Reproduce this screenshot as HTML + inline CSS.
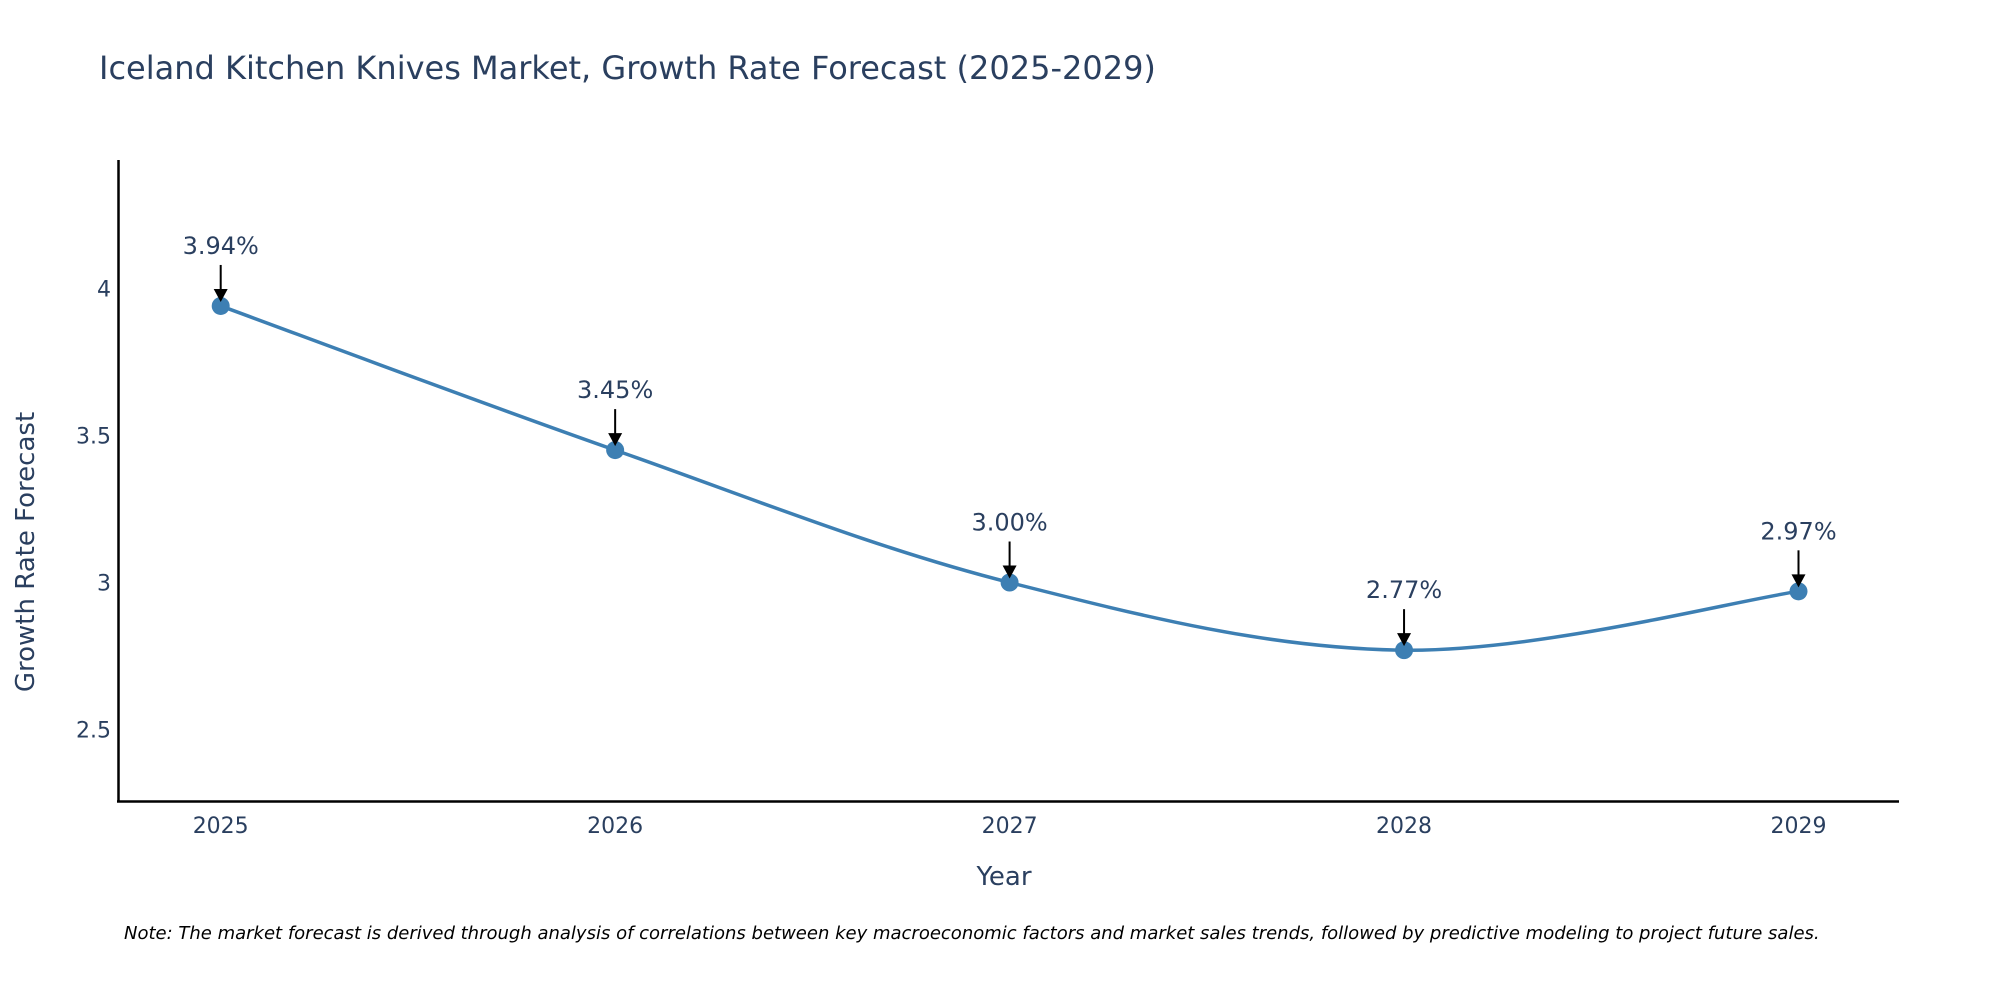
<!DOCTYPE html>
<html><head><meta charset="utf-8"><style>
body{margin:0;background:#fff;}
svg{display:block;font-family:"DejaVu Sans","Liberation Sans",sans-serif;}
</style></head><body>
<svg id="chart" width="2000" height="1000" viewBox="0 0 2000 1000">
<text x="99" y="79" font-size="32" fill="#2a3f5f">Iceland Kitchen Knives Market, Growth Rate Forecast (2025-2029)</text>
<g id="yticks"></g>
<g id="xticks"></g>
<line x1="118.5" y1="160" x2="118.5" y2="802" stroke="#000" stroke-width="2.5"/>
<line x1="117" y1="801.5" x2="1899" y2="801.5" stroke="#000" stroke-width="2.5"/>
<path id="line" fill="none" stroke="#3d7fb3" stroke-width="3.5"/>
<g id="points"></g>
<g id="annos"></g>
<text x="1004" y="885" font-size="26" fill="#2a3f5f" text-anchor="middle">Year</text>
<text transform="translate(34,552) rotate(-90)" font-size="26" fill="#2a3f5f" text-anchor="middle">Growth Rate Forecast</text>
<text x="124" y="939" font-size="18" font-style="italic" fill="#000">Note: The market forecast is derived through analysis of correlations between key macroeconomic factors and market sales trends, followed by predictive modeling to project future sales.</text>
</svg>
<script>
const years=[2025,2026,2027,2028,2029];
const values=[3.94,3.45,3.00,2.77,2.97];
const yTicks=[2.5,3,3.5,4];
const NS="http://www.w3.org/2000/svg";
function xs(yr){return 220.7+(yr-2025)*394.45;}
function ys(v){return 288.3-(v-4)*294.2;}
function mk(tag,attrs,parent){const e=document.createElementNS(NS,tag);for(const k in attrs)e.setAttribute(k,attrs[k]);parent.appendChild(e);return e;}
const yt=document.getElementById('yticks');
yTicks.forEach(t=>{const e=mk('text',{x:111,y:ys(t)+8,'font-size':22,fill:'#2a3f5f','text-anchor':'end'},yt);


e.textContent=String(t);});
const xt=document.getElementById('xticks');
years.forEach(y=>{const e=mk('text',{x:xs(y),y:833,'font-size':22,fill:'#2a3f5f','text-anchor':'middle'},xt);


e.textContent=String(y);});
const P=years.map((y,i)=>[xs(y),ys(values[i])]);
let d='M'+P[0][0]+','+P[0][1];
const s=0.17;
for(let i=0;i<P.length-1;i++){const p0=P[Math.max(0,i-1)],p1=P[i],p2=P[i+1],p3=P[Math.min(P.length-1,i+2)];
const c1=[p1[0]+(p2[0]-p0[0])*s,p1[1]+(p2[1]-p0[1])*s],c2=[p2[0]-(p3[0]-p1[0])*s,p2[1]-(p3[1]-p1[1])*s];
d+=' C'+c1[0]+','+c1[1]+' '+c2[0]+','+c2[1]+' '+p2[0]+','+p2[1];}
document.getElementById('line').setAttribute('d',d);
const pts=document.getElementById('points'),an=document.getElementById('annos');
P.forEach((p,i)=>{const c=mk('circle',{cx:p[0],cy:p[1],r:9,fill:'#3d7fb3'},pts);


const l=mk('line',{x1:p[0],y1:p[1]-41,x2:p[0],y2:p[1]-14,stroke:'#000','stroke-width':2},an);


const h=mk('polygon',{points:`${p[0]-7},${p[1]-17} ${p[0]+7},${p[1]-17} ${p[0]},${p[1]-4}`,fill:'#000'},an);


const t=mk('text',{x:p[0],y:p[1]-52,'font-size':24,fill:'#2a3f5f','text-anchor':'middle'},an);


t.textContent=values[i].toFixed(2)+'%';});
</script>
</body></html>
